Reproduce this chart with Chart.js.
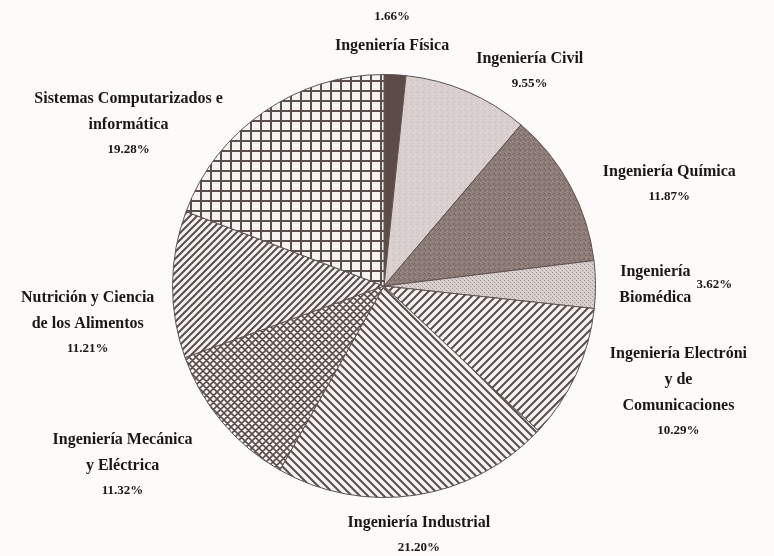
<!DOCTYPE html>
<html>
<head>
<meta charset="utf-8">
<script src="https://cdn.jsdelivr.net/npm/chart.js@4"></script>
<style>
  html, body { margin: 0; padding: 0; background: #fcfbfa; }
  #wrap { width: 774px; height: 556px; }
</style>
</head>
<body>
<div id="wrap"><canvas id="pie"></canvas></div>
<script>
// career share, clockwise from 12 o'clock
const careers = [
  'Ingeniería Física',
  'Ingeniería Civil',
  'Ingeniería Química',
  'Ingeniería Biomédica',
  'Ingeniería Electrónica y de Comunicaciones',
  'Ingeniería Industrial',
  'Ingeniería Mecánica y Eléctrica',
  'Nutrición y Ciencia de los Alimentos',
  'Sistemas Computarizados e informática'
];
const shares = [1.66, 9.55, 11.87, 3.62, 10.29, 21.20, 11.32, 11.21, 19.28];

// label text as printed, one entry per line
const labelLines = [
  ['Ingeniería Física'],
  ['Ingeniería Civil'],
  ['Ingeniería Química'],
  ['Ingeniería', 'Biomédica'],
  ['Ingeniería Electróni', 'y de', 'Comunicaciones'],
  ['Ingeniería Industrial'],
  ['Ingeniería Mecánica', 'y Eléctrica'],
  ['Nutrición y Ciencia', 'de los Alimentos'],
  ['Sistemas Computarizados e', 'informática']
];

// where each label block sits, in radius units from the pie centre,
// and where its percentage goes
const labelSpots = [
  { fx: 0.038, fy: -1.137, pct: 'above' },
  { fx: 0.689, fy: -1.075, pct: 'below' },
  { fx: 1.349, fy: -0.542, pct: 'below' },
  { fx: 1.283, fy: -0.066, pct: 'right', dx: 59 },
  { fx: 1.392, fy: 0.321, pct: 'below' },
  { fx: 0.165, fy: 1.118, pct: 'below' },
  { fx: -1.236, fy: 0.726, pct: 'below' },
  { fx: -1.401, fy: 0.057, pct: 'below' },
  { fx: -1.208, fy: -0.887, pct: 'below' }
];

const INK = '#5b4f4e';
const PAPER = '#f7f3f1';

function makeTile(size, draw) {
  const c = document.createElement('canvas');
  c.width = c.height = size;
  const g = c.getContext('2d');
  draw(g, size);
  return g.createPattern(c, 'repeat');
}

function hatch(dir, s, w) {
  return makeTile(s, (g, n) => {
    g.fillStyle = PAPER;
    g.fillRect(0, 0, n, n);
    g.strokeStyle = INK;
    g.lineWidth = w;
    g.beginPath();
    for (const o of [-n, 0, n]) {
      if (dir === '/') {
        g.moveTo(o - 1, n + 1);
        g.lineTo(o + n + 1, -1);
      } else {
        g.moveTo(o - 1, -1);
        g.lineTo(o + n + 1, n + 1);
      }
    }
    g.stroke();
  });
}

function diamonds(s, w) {
  return makeTile(s, (g, n) => {
    g.fillStyle = PAPER;
    g.fillRect(0, 0, n, n);
    g.strokeStyle = INK;
    g.lineWidth = w;
    g.beginPath();
    for (const o of [-n, 0, n]) {
      g.moveTo(o - 1, n + 1);
      g.lineTo(o + n + 1, -1);
      g.moveTo(o - 1, -1);
      g.lineTo(o + n + 1, n + 1);
    }
    g.stroke();
  });
}

function squares(s, w) {
  return makeTile(s, (g, n) => {
    g.fillStyle = PAPER;
    g.fillRect(0, 0, n, n);
    g.fillStyle = INK;
    g.fillRect(0, 0, n, w);
    g.fillRect(0, 0, w, n);
  });
}

// fine dotted / grainy fills from a fixed pixel layout
function grain(base, spots, size) {
  return makeTile(size, (g, n) => {
    g.fillStyle = base;
    g.fillRect(0, 0, n, n);
    spots.forEach(([x, y, col]) => {
      g.fillStyle = col;
      g.fillRect(x, y, 1, 1);
    });
  });
}

const fills = [
  '#5c4b46',
  grain('#d8cfce', [[0, 0, '#e6dfde'], [3, 2, '#c9bfbe'], [1, 4, '#e3dcdb'], [4, 5, '#cdc3c2'], [2, 1, '#d0c6c5']], 6),
  grain('#8c7b77', [[0, 0, '#76655f'], [2, 1, '#a09089'], [4, 3, '#6f5f5a'], [1, 3, '#9a8a84'], [3, 4, '#7c6b66'], [0, 2, '#a59690']], 5),
  grain('#d9d2d0', [[0, 0, '#a39896'], [2, 2, '#a39896'], [1, 1, '#c6bdbb'], [3, 3, '#c6bdbb']], 4),
  hatch('/', 8, 2),
  hatch('\\', 8, 2),
  diamonds(7, 1.6),
  hatch('/', 7, 2),
  squares(10, 2)
];

const sliceLabels = {
  id: 'sliceLabels',
  afterDatasetsDraw(chart) {
    const meta = chart.getDatasetMeta(0);
    const arc = meta.data[0];
    const cx = arc.x, cy = arc.y, r = arc.outerRadius;
    const ctx = chart.ctx;
    const step = 26, pctStep = 25;
    ctx.save();
    ctx.fillStyle = '#1c1616';
    ctx.textAlign = 'center';
    ctx.textBaseline = 'middle';
    labelLines.forEach((lines, i) => {
      const spot = labelSpots[i];
      const x = cx + spot.fx * r;
      const y = cy + spot.fy * r;
      ctx.font = 'bold 16px "Liberation Serif", serif';
      lines.forEach((t, k) => ctx.fillText(t, x, y + k * step));
      const pct = shares[i].toFixed(2) + '%';
      ctx.font = 'bold 13px "Liberation Serif", serif';
      if (spot.pct === 'above') {
        ctx.fillText(pct, x, y - 29);
      } else if (spot.pct === 'right') {
        ctx.fillText(pct, x + spot.dx, y + (lines.length - 1) * step / 2);
      } else {
        ctx.fillText(pct, x, y + (lines.length - 1) * step + pctStep);
      }
    });
    ctx.restore();
  }
};

new Chart(document.getElementById('pie').getContext('2d'), {
  type: 'pie',
  data: {
    labels: careers,
    datasets: [{
      data: shares,
      backgroundColor: fills,
      borderColor: '#5e5251',
      borderWidth: 1
    }]
  },
  options: {
    responsive: true,
    maintainAspectRatio: false,
    animation: false,
    layout: { padding: { top: 74, bottom: 58, left: 0, right: 6 } },
    plugins: {
      legend: { display: false },
      tooltip: { enabled: false }
    }
  },
  plugins: [sliceLabels]
});
</script>
</body>
</html>
